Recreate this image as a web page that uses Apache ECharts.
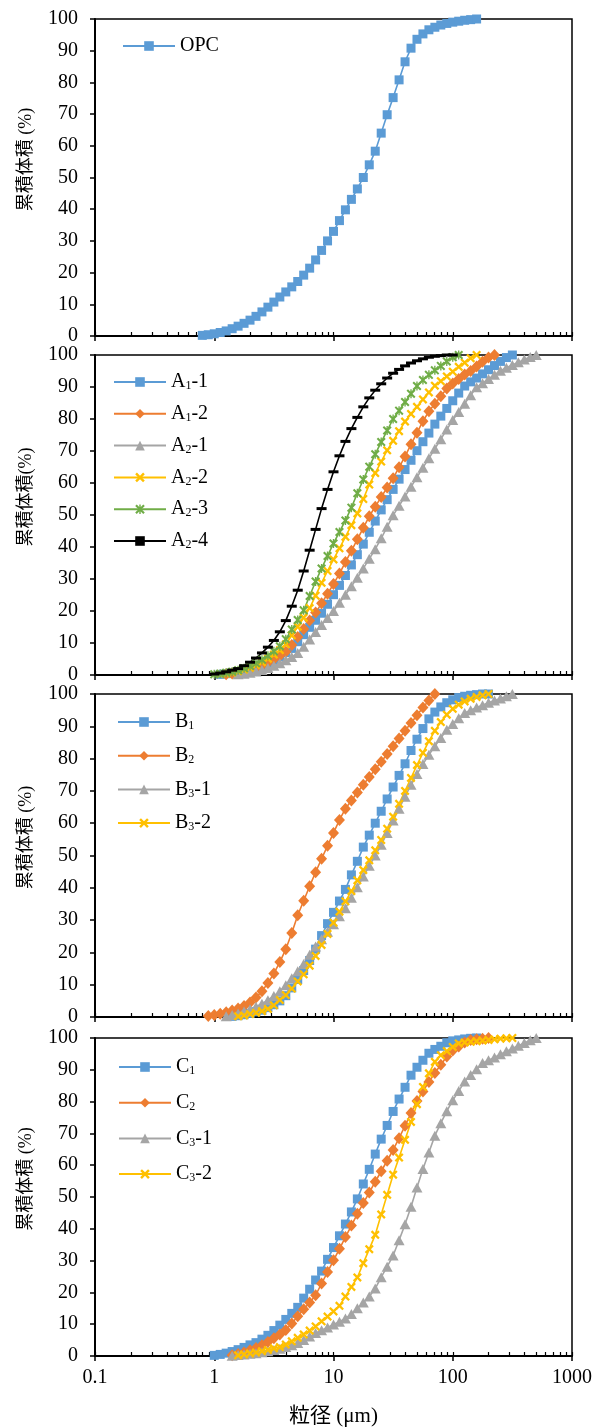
<!DOCTYPE html>
<html><head><meta charset="utf-8">
<script src="https://cdn.jsdelivr.net/npm/echarts@6/dist/echarts.min.js"></script>
<style>html,body{margin:0;padding:0;background:#fff}#chart{width:598px;height:1428px}</style>
</head><body><div id="chart"></div>
<script>
// particle-size bins (µm)
const BINS = [0.794,0.891,1.000,1.122,1.259,1.413,1.585,1.778,1.995,2.239,2.512,2.818,3.162,3.548,3.981,4.467,5.012,5.623,6.310,7.079,7.943,8.913,10.00,11.22,12.59,14.13,15.85,17.78,19.95,22.39,25.12,28.18,31.62,35.48,39.81,44.67,50.12,56.23,63.10,70.79,79.43,89.13,100.0,112.2,125.9,141.3,158.5,177.8,199.5,223.9,251.2,281.8,316.2,354.8,398.1,446.7,501.2];

// cumulative volume (%) per series, and index of its first bin in BINS
const OPC = [0.2,0.4,0.7,1.1,1.6,2.3,3.1,4.0,5.0,6.2,7.6,9.1,10.7,12.3,13.9,15.5,17.2,19.2,21.4,24.0,27.0,30.0,33.0,36.4,39.8,43.1,46.4,50.0,54.0,58.3,64.0,69.8,75.2,80.8,86.5,90.8,93.6,95.3,96.6,97.4,98.1,98.6,99.0,99.3,99.6,99.8,100];
const OPC_FIRST = 0;

const A1_1 = [0.2,0.4,0.6,0.9,1.3,1.8,2.4,3.1,3.9,4.8,5.8,7.0,8.3,10.4,12.6,14.9,17.1,19.3,22.1,25.1,28.0,31.1,34.4,37.6,40.9,44.6,48.1,51.6,54.8,58.0,61.2,64.2,67.1,70.1,72.9,75.6,78.4,80.9,83.3,85.7,88.1,90.3,91.6,92.8,94.1,95.4,96.7,98.0,99.2,100];
const A1_1_FIRST = 3;
const A1_2 = [0.2,0.5,0.8,1.2,1.7,2.3,3.0,3.9,4.9,6.0,7.3,9.4,11.9,14.4,17.0,19.5,22.4,25.4,28.4,31.7,35.3,38.8,42.4,46.0,49.6,52.6,55.6,58.6,61.5,64.9,68.3,72.1,75.7,79.3,82.4,84.8,87.1,89.5,91.1,92.5,93.9,95.0,96.4,97.9,99.2,100];
const A1_2_FIRST = 4;
const A2_1 = [0.2,0.4,0.7,1.1,1.6,2.2,2.9,3.7,4.6,5.6,6.9,8.8,11.1,13.4,15.6,17.8,20.0,22.6,25.1,27.7,30.4,33.3,36.3,39.3,42.7,46.3,49.9,52.9,55.8,58.8,61.8,64.8,67.7,70.7,73.7,76.7,79.7,82.2,84.8,87.4,89.9,91.2,92.5,93.8,95.1,96.0,96.9,97.7,98.6,99.4,100];
const A2_1_FIRST = 6;
const A2_2 = [0.3,0.5,0.8,1.2,1.7,2.3,3.1,4.0,5.1,6.4,7.8,9.6,12.4,15.1,17.9,20.9,24.8,28.8,32.5,36.1,39.6,43.2,46.8,50.5,55.0,59.5,63.1,66.7,70.2,73.2,76.2,79.2,81.6,83.8,86.1,88.3,90.4,91.8,93.3,94.8,96.3,97.6,99.0,100];
const A2_2_FIRST = 3;
const A2_3 = [0.2,0.4,0.7,1.0,1.5,2.1,2.8,3.7,4.8,6.0,7.4,9.0,11.2,14.2,17.2,20.2,24.7,29.2,33.3,37.2,41.1,44.7,48.3,52.3,56.8,61.1,65.1,69.0,72.8,76.4,80.0,82.6,85.3,87.9,90.3,92.2,93.8,95.2,96.6,98.0,99.3,100];
const A2_3_FIRST = 2;
const A2_4 = [0.3,0.6,1.0,1.5,2.0,2.9,4.0,5.3,6.9,8.7,10.8,13.5,17.0,21.5,26.5,32.5,39.0,45.5,52.0,58.0,63.5,68.5,73.0,77.0,80.5,83.8,86.6,89.0,91.0,92.8,94.3,95.5,96.6,97.5,98.2,98.8,99.3,99.6,99.8,100,100];
const A2_4_FIRST = 2;

const B1 = [0.2,0.4,0.7,1.1,1.6,2.1,2.9,3.8,5.0,6.6,9.0,11.6,14.4,17.5,21.0,25.2,28.9,32.4,35.9,39.5,44.0,48.2,52.6,56.3,60.0,63.7,67.5,71.2,74.8,78.4,82.5,86.0,89.3,92.3,94.4,96.0,97.3,98.2,98.9,99.3,99.6,99.8,100,100];
const B1_FIRST = 5;
const B2 = [0.3,0.6,1.0,1.5,2.0,2.6,3.4,4.5,6.0,8.0,10.5,13.5,17.0,21.0,26.0,31.5,36.0,40.5,44.8,49.0,53.0,57.0,61.0,64.5,67.0,69.5,71.9,74.3,76.7,79.0,81.4,83.8,86.2,88.6,91.0,93.4,95.8,98.0,100];
const B2_FIRST = 1;
const B3_1 = [0.2,0.6,1.1,1.7,2.4,3.2,4.1,5.2,6.5,8.0,9.8,12.0,14.2,16.4,19.3,21.8,24.1,26.4,28.7,31.2,33.7,36.9,40.2,43.5,46.8,50.0,53.3,57.0,60.8,64.5,68.2,71.9,75.2,78.3,81.2,83.8,86.4,88.9,90.7,92.5,94.1,95.0,95.8,96.5,97.3,98.0,98.6,99.3,100];
const B3_1_FIRST = 4;
const B3_2 = [0.2,0.5,0.9,1.3,1.8,2.5,3.6,5.3,6.8,8.8,11.0,13.2,15.9,18.9,22.3,25.7,29.2,32.6,35.8,39.0,42.3,45.5,48.5,51.6,54.8,58.3,62.0,66.0,70.0,74.0,78.0,81.8,85.4,88.6,91.3,93.6,95.4,96.7,97.7,98.5,99.1,99.6,100];
const B3_2_FIRST = 6;

const C1 = [0.2,0.5,0.9,1.4,2.0,2.7,3.5,4.2,5.3,6.5,8.0,9.7,11.5,13.4,15.3,18.2,21.0,23.9,26.7,30.4,34.1,37.8,41.5,45.3,49.4,54.1,58.7,63.5,68.2,72.5,76.9,80.8,84.5,88.3,90.8,93.0,95.2,96.4,97.4,98.5,99.1,99.4,99.7,99.9,100];
const C1_FIRST = 2;
const C2 = [0.2,0.6,1.1,1.8,2.5,3.4,4.4,5.6,6.8,8.2,10.2,12.5,14.7,16.8,19.1,22.8,26.4,30.1,33.7,37.4,41.0,44.7,48.1,51.4,54.8,58.1,61.4,64.8,68.5,72.4,76.4,80.2,83.2,86.2,89.0,91.6,94.2,96.1,97.3,98.6,99.4,99.6,99.8,100];
const C2_FIRST = 5;
const C3_1 = [0.1,0.3,0.5,0.7,0.9,1.2,1.5,1.9,2.3,2.8,3.4,4.1,5.0,6.1,7.2,8.1,9.0,9.9,10.8,11.8,13.2,15.0,16.8,18.7,21.2,24.8,28.1,31.6,36.4,41.4,46.9,53.0,58.8,64.0,69.3,73.2,77.0,80.4,83.3,86.3,88.4,90.2,92.1,93.0,93.9,94.9,95.8,96.7,97.6,98.4,99.3,100];
const C3_1_FIRST = 5;
const C3_2 = [0.2,0.5,0.8,1.1,1.5,1.9,2.4,2.8,3.6,4.6,5.7,6.8,8.0,9.3,10.9,12.4,14.0,15.8,18.7,21.7,24.7,29.2,33.6,38.1,44.5,50.7,57.0,62.4,68.0,73.6,79.2,84.6,88.9,92.5,94.6,95.9,97.2,98.3,98.6,98.8,99.0,99.2,99.4,99.6,99.8,99.9,100];
const C3_2_FIRST = 6;

// axis tick values / labels
const X_MAJOR = [0.1, 1, 10, 100, 1000];
const X_MINOR = [0.1,0.2,0.3,0.4,0.5,0.6,0.7,0.8,0.9,1,2,3,4,5,6,7,8,9,10,20,30,40,50,60,70,80,90,100,200,300,400,500,600,700,800,900,1000];
const Y_TITLES = ['累積体積 (%)', '累積体積(%)', '累積体積 (%)', '累積体積 (%)'];
const X_TITLE = '粒径 (μm)';

// ---------------- styles / layout ----------------
const SERIF = "'Liberation Serif','Times New Roman',serif";
const YFONT = "'Liberation Serif','Noto Sans CJK JP',serif";
const COL = {blue:'#5B9BD5', orange:'#ED7D31', gray:'#A5A5A5', yellow:'#FFC000', green:'#70AD47', black:'#000000'};
const X_PATH = 'path://M0,1.8L1.8,0L5,3.2L8.2,0L10,1.8L6.8,5L10,8.2L8.2,10L5,6.8L1.8,10L0,8.2L3.2,5Z';
const STAR_PATH = 'path://M0,1.6L1.6,0L5,3.4L8.4,0L10,1.6L6.6,5L10,8.4L8.4,10L5,6.6L1.6,10L0,8.4L3.4,5Z M4.25,0H5.75V10H4.25Z';
const MK = {
  blue:   {symbol:'rect', size:9},
  orange: {symbol:'diamond', size:[11,12]},
  gray:   {symbol:'triangle', size:[11,10]},
  yellow: {symbol:X_PATH, size:9},
  green:  {symbol:STAR_PATH, size:9},
  black:  {symbol:'rect', size:[10,3]}
};

const GRIDS = [
  {top:19, height:317},
  {top:355, height:320},
  {top:694, height:323},
  {top:1038, height:321}
];

function ser(name, first, ys, g, c) {
  return {
    type:'line', name, xAxisIndex:2*g, yAxisIndex:g,
    data: ys.map((y,i)=>[BINS[first+i], y]),
    symbol: MK[c].symbol, symbolSize: MK[c].size, showSymbol:true, showAllSymbol:true,
    itemStyle:{color:COL[c], opacity:1}, lineStyle:{color:COL[c], width:1.6},
    animation:false, silent:true, clip:false
  };
}

const series = [
  ser('OPC', OPC_FIRST, OPC, 0, 'blue'),
  ser('A1-1', A1_1_FIRST, A1_1, 1, 'blue'),
  ser('A1-2', A1_2_FIRST, A1_2, 1, 'orange'),
  ser('A2-1', A2_1_FIRST, A2_1, 1, 'gray'),
  ser('A2-2', A2_2_FIRST, A2_2, 1, 'yellow'),
  ser('A2-3', A2_3_FIRST, A2_3, 1, 'green'),
  ser('A2-4', A2_4_FIRST, A2_4, 1, 'black'),
  ser('B1', B1_FIRST, B1, 2, 'blue'),
  ser('B2', B2_FIRST, B2, 2, 'orange'),
  ser('B3-1', B3_1_FIRST, B3_1, 2, 'gray'),
  ser('B3-2', B3_2_FIRST, B3_2, 2, 'yellow'),
  ser('C1', C1_FIRST, C1, 3, 'blue'),
  ser('C2', C2_FIRST, C2, 3, 'orange'),
  ser('C3-1', C3_1_FIRST, C3_1, 3, 'gray'),
  ser('C3-2', C3_2_FIRST, C3_2, 3, 'yellow')
];

const xAxis = [], yAxis = [], grid = [];
GRIDS.forEach((gp, g) => {
  grid.push({left:95, right:26, top:gp.top, height:gp.height, show:true, borderColor:'#000', borderWidth:1.5, backgroundColor:'transparent', containLabel:false});
  const last = g === GRIDS.length - 1;
  xAxis.push({
    type:'log', logBase:10, gridIndex:g, min:0.1, max:1000, position:'bottom',
    axisLine:{show:true, onZero:false, lineStyle:{color:'#000', width:2}},
    axisTick:{show:true, inside:false, length:5, customValues:X_MAJOR, lineStyle:{color:'#000', width:1.5}},
    axisLabel:{show:last, customValues:X_MAJOR, margin:12, color:'#000', fontFamily:SERIF, fontSize:20,
               formatter:(v)=>String(v)},
    splitLine:{show:false}, minorTick:{show:false},
    name: last ? X_TITLE : '', nameLocation:'middle', nameGap:50,
    nameTextStyle:{color:'#000', fontFamily:YFONT, fontSize:21}
  });
  xAxis.push({
    type:'log', logBase:10, gridIndex:g, min:0.1, max:1000, position:'bottom',
    axisLine:{show:false},
    axisTick:{show:true, inside:true, length:4, customValues:X_MINOR, lineStyle:{color:'#000', width:1.2}},
    axisLabel:{show:false}, splitLine:{show:false}
  });
  yAxis.push({
    type:'value', gridIndex:g, min:0, max:100, interval:10,
    axisLine:{show:true, onZero:false, lineStyle:{color:'#000', width:2}},
    axisTick:{show:true, inside:false, length:5, lineStyle:{color:'#000', width:1.5}},
    axisLabel:{margin:17, color:'#000', fontFamily:SERIF, fontSize:20},
    splitLine:{show:false},
    name:Y_TITLES[g], nameLocation:'middle', nameGap:60, nameRotate:90,
    nameTextStyle:{color:'#000', fontFamily:YFONT, fontSize:18, padding:[0,0,0,36]}
  });
});

const RICH = {
  n:{fontFamily:SERIF, fontSize:20, color:'#000', lineHeight:20},
  s:{fontFamily:SERIF, fontSize:12, color:'#000', padding:[8,0,0,0]}
};
function fmt(name){
  const m = name.match(/^([A-Z])(\d)(.*)$/);
  if (!m) return '{n|' + name + '}';
  return '{n|' + m[1] + '}{s|' + m[2] + '}' + (m[3] ? '{n|' + m[3] + '}' : '');
}
function legend(names, left, top, gap){
  return {data:names, orient:'vertical', left, top, padding:0, itemWidth:52, itemHeight:12, itemGap:gap,
          selectedMode:false, formatter:fmt,
          textStyle:{fontFamily:SERIF, fontSize:20, color:'#000', lineHeight:20, rich:RICH}};
}

const option = {
  backgroundColor:'#fff',
  animation:false,
  grid, xAxis, yAxis, series,
  legend:[
    legend(['OPC'], 122, 36, 10),
    legend(['A1-1','A1-2','A2-1','A2-2','A2-3','A2-4'], 113, 372, 11.8),
    legend(['B1','B2','B3-1','B3-2'], 117, 712, 13.7),
    legend(['C1','C2','C3-1','C3-2'], 118, 1057, 15.7)
  ]
};

const chart = echarts.init(document.getElementById('chart'), null, {renderer:'canvas'});
chart.setOption(option);
</script></body></html>
